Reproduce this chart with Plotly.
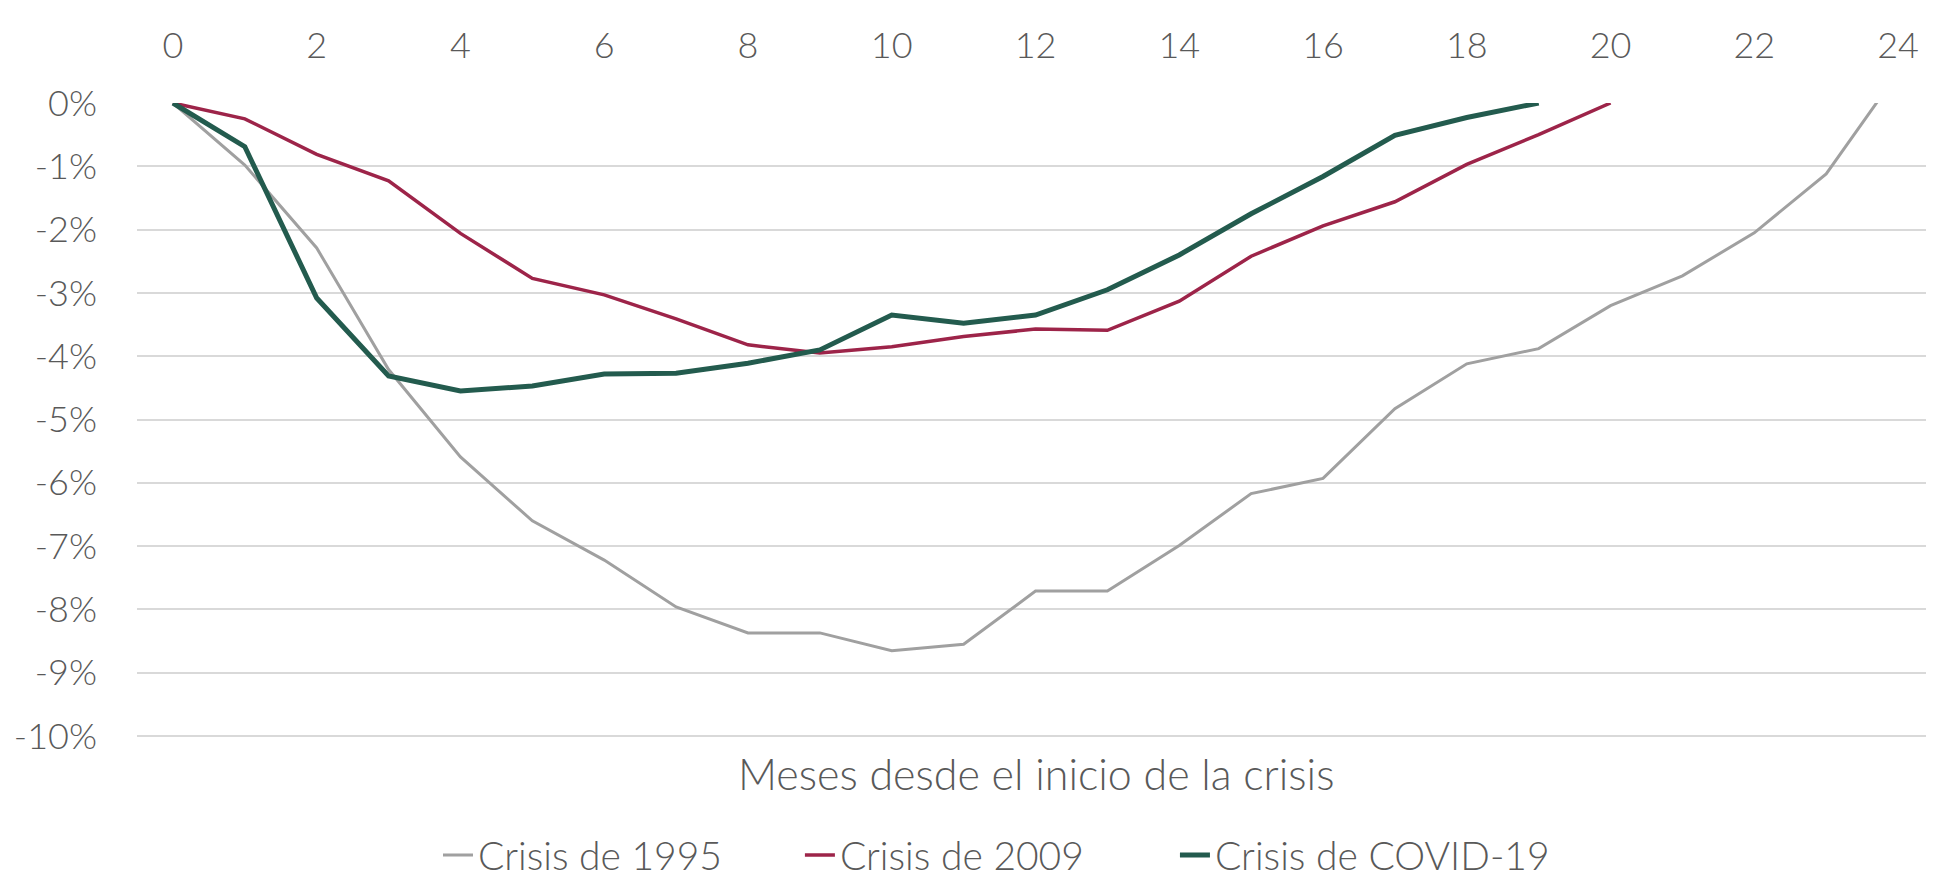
import plotly.graph_objects as go

months = list(range(0, 25))

crisis_1995 = [0, -0.98, -2.29, -4.21, -5.59, -6.60, -7.22, -7.96, -8.37, -8.37,
               -8.65, -8.55, -7.71, -7.71, -6.99, -6.17, -5.93, -4.83, -4.12, -3.88,
               -3.20, -2.73, -2.05, -1.12, 0.48]
crisis_2009 = [0, -0.25, -0.81, -1.23, -2.06, -2.77, -3.03, -3.41, -3.82, -3.95,
               -3.85, -3.69, -3.57, -3.59, -3.13, -2.42, -1.94, -1.56, -0.97, -0.50,
               0.0]
crisis_covid = [0, -0.69, -3.08, -4.31, -4.55, -4.47, -4.28, -4.27, -4.11, -3.90,
                -3.35, -3.48, -3.35, -2.95, -2.40, -1.75, -1.16, -0.51, -0.23, 0.0]

series_names = ["Crisis de 1995", "Crisis de 2009", "Crisis de COVID-19"]
x_tickvals = list(range(0, 25, 2))
y_tickvals = [0, -1, -2, -3, -4, -5, -6, -7, -8, -9, -10]
y_ticktext = ["0%", "-1%", "-2%", "-3%", "-4%", "-5%", "-6%", "-7%", "-8%", "-9%", "-10%"]
x_title = "Meses desde el inicio de la crisis"

FONT = "Lato"
TXT = "#595959"

fig = go.Figure()
fig.add_trace(go.Scatter(x=months[:len(crisis_1995)], y=crisis_1995, mode="lines",
                         name=series_names[0], legend="legend",
                         line=dict(color="#A0A0A0", width=3)))
fig.add_trace(go.Scatter(x=months[:len(crisis_2009)], y=crisis_2009, mode="lines",
                         name=series_names[1], legend="legend2",
                         line=dict(color="#9D2449", width=3.5)))
fig.add_trace(go.Scatter(x=months[:len(crisis_covid)], y=crisis_covid, mode="lines",
                         name=series_names[2], legend="legend3",
                         line=dict(color="#235B4E", width=5)))

legend_font = dict(family=FONT, size=39, color=TXT, weight=300)


def legend_at(x):
    return dict(orientation="h", x=x, xanchor="left", y=-0.1845, yanchor="middle",
                font=legend_font, bgcolor="rgba(0,0,0,0)", borderwidth=0)


fig.update_layout(
    width=1926, height=872,
    margin=dict(l=129, r=0, t=95, b=142, autoexpand=False),
    paper_bgcolor="white", plot_bgcolor="white",
    font=dict(family=FONT, size=36, color=TXT, weight=300),
    showlegend=True,
    legend=legend_at(0.1675),
    legend2=legend_at(0.3689),
    legend3=legend_at(0.5776),
    xaxis=dict(side="top", range=[-0.5, 24.5], tickvals=x_tickvals, showgrid=False,
               zeroline=False, showline=False, ticks="", ticklabelstandoff=37,
               automargin=False,
               tickfont=dict(family=FONT, size=36, color=TXT, weight=300)),
    yaxis=dict(range=[-10.03, 0], tickvals=y_tickvals, ticktext=y_ticktext,
               showgrid=True, gridcolor="#D9D9D9", gridwidth=2, zeroline=False,
               showline=False, ticks="", ticklabelstandoff=39, automargin=False,
               tickfont=dict(family=FONT, size=36, color=TXT, weight=300)),
    annotations=[dict(text=x_title, xref="paper", yref="paper", x=0.5, y=0,
                      xanchor="center", yanchor="middle", yshift=-35, showarrow=False,
                      font=dict(family=FONT, size=43, color=TXT, weight=300))],
)

fig.write_html("out.html")
